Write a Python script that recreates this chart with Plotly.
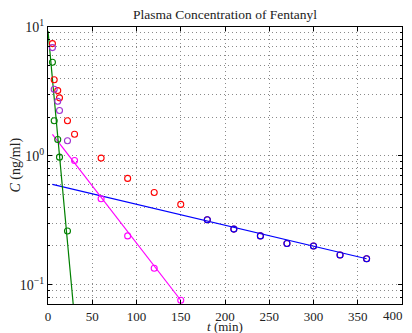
import plotly.graph_objects as go

# Observed plasma concentrations (red)
t_obs = [5, 7, 11, 13, 22, 30, 60, 90, 120, 150, 180, 210, 240, 270, 300, 330, 360]
c_obs = [7.43, 3.90, 3.21, 2.82, 1.87, 1.47, 0.96, 0.668, 0.52, 0.42,
         0.319, 0.270, 0.239, 0.209, 0.1995, 0.170, 0.159]

# Terminal (slow) phase points (blue)
t_slow = [180, 210, 240, 270, 300, 330, 360]
c_slow = [0.319, 0.270, 0.239, 0.209, 0.1995, 0.170, 0.159]

# First residuals (purple)
t_res1 = [5, 7, 11, 13, 22]
c_res1 = [6.92, 3.29, 2.65, 2.25, 1.31]

# Intermediate phase points (magenta)
t_mid = [30, 60, 90, 120, 150]
c_mid = [0.92, 0.464, 0.239, 0.134, 0.0757]

# Fast phase residuals (green)
t_fast = [5, 7, 11, 13, 22]
c_fast = [5.33, 1.87, 1.34, 0.977, 0.261]

# Fitted exponential lines (endpoints)
t_slow_fit = [5, 360]
c_slow_fit = [0.600, 0.159]
t_mid_fit = [5, 150]
c_mid_fit = [1.47, 0.0757]
t_fast_fit = [0, 30]
c_fast_fit = [9.33, 0.0543]

x_range = [0, 400]
x_ticks = [0, 50, 100, 150, 200, 250, 300, 350, 400]
y_ticks = [0.1, 1, 10]
y_ticktext = ["10<sup>\u22121</sup>", "10<sup>0</sup>", "10<sup>1</sup>"]

RED = "#ff0000"
BLUE = "#0000ff"
PURPLE = "#a030d0"
MAGENTA = "#ff00ff"
GREEN = "#008000"
FONT = "Liberation Serif"
GRIDC = "#8a8a8a"
DASH = "1px,3px"

fig = go.Figure()

def mk(t, c, color):
    return go.Scatter(x=t, y=c, mode="markers", showlegend=False, cliponaxis=True,
                      marker=dict(symbol="circle-open", size=6, color=color,
                                  line=dict(width=1.1, color=color)))

def ln(t, c, color):
    return go.Scatter(x=t, y=c, mode="lines", showlegend=False,
                      line=dict(color=color, width=1.2))

fig.add_trace(ln(t_slow_fit, c_slow_fit, BLUE))
fig.add_trace(ln(t_mid_fit, c_mid_fit, MAGENTA))
fig.add_trace(ln(t_fast_fit, c_fast_fit, GREEN))
fig.add_trace(mk(t_obs, c_obs, RED))
fig.add_trace(mk(t_res1, c_res1, PURPLE))
fig.add_trace(mk(t_fast, c_fast, GREEN))
fig.add_trace(mk(t_mid, c_mid, MAGENTA))
fig.add_trace(mk(t_slow, c_slow, BLUE))

grid = dict(showgrid=True, gridcolor=GRIDC, gridwidth=1, griddash=DASH)

# the last x label sits at the right edge of the axes; it is placed as a
# paper-referenced annotation so that it is not auto-hidden
x_ticktext = [str(v) for v in x_ticks[:-1]] + [""]
last_frac = (x_ticks[-1] - x_range[0]) / (x_range[1] - x_range[0])

fig.update_xaxes(range=x_range, tickvals=x_ticks, ticktext=x_ticktext,
                 ticks="inside", ticklen=4, tickcolor="black", automargin=False,
                 showline=True, linecolor="black", linewidth=1, mirror="ticks",
                 zeroline=False, tickfont=dict(family=FONT, size=13, color="#222"),
                 **grid)
fig.update_yaxes(type="log", range=[-1.15, 1.0], tickvals=y_ticks, ticktext=y_ticktext,
                 ticks="inside", ticklen=4, tickcolor="black", automargin=False,
                 showline=True, linecolor="black", linewidth=1, mirror="ticks",
                 zeroline=False, tickfont=dict(family=FONT, size=14, color="#222"),
                 minor=dict(dtick="D1", ticks="inside", ticklen=2, tickcolor="black",
                            showgrid=True, gridcolor=GRIDC, gridwidth=1, griddash=DASH),
                 **grid)

fig.update_layout(
    width=412, height=333,
    margin=dict(l=48, r=10, t=27, b=29, autoexpand=False),
    plot_bgcolor="white", paper_bgcolor="white",
    title=dict(text="Plasma Concentration of Fentanyl", x=(48.3 + 401.7) / 2 / 412,
               xanchor="center", y=1 - 14 / 333, yanchor="middle", yref="container",
               font=dict(family=FONT, size=13.5, color="#222")),
    annotations=[
        dict(text=str(x_ticks[-1]), xref="paper", yref="paper", x=last_frac, y=-0.042,
             xanchor="right", xshift=3, yanchor="middle", showarrow=False,
             font=dict(family=FONT, size=13, color="#222")),
        dict(text="<i>t</i> (min)", xref="paper", yref="paper", x=0.5, y=-0.083,
             xanchor="center", yanchor="middle", showarrow=False,
             font=dict(family=FONT, size=13, color="#222")),
        dict(text="<i>C</i> (ng/ml)", xref="paper", yref="paper", x=-0.093, y=0.5,
             xanchor="center", yanchor="middle", textangle=-90, showarrow=False,
             font=dict(family=FONT, size=14, color="#222")),
    ],
)

fig.write_html("out.html")
